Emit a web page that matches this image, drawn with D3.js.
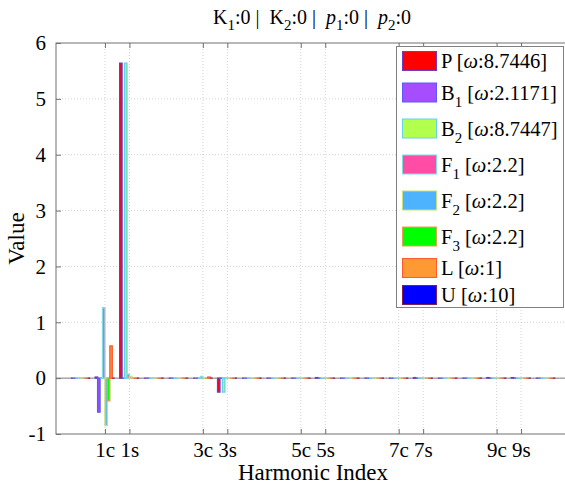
<!DOCTYPE html>
<html>
<head>
<meta charset="utf-8">
<script src="https://cdn.jsdelivr.net/npm/d3@7"></script>
<style>
  body { margin: 0; background: #fff; }
  text { font-family: "Liberation Serif", "Times New Roman", serif; }
</style>
</head>
<body>
<div id="chart"></div>
<script>
// Harmonic categories (DC, then cos/sin of each harmonic)
const categories = ["0", "1c", "1s", "2c", "2s", "3c", "3s", "4c", "4s", "5c", "5s",
                    "6c", "6s", "7c", "7s", "8c", "8s", "9c", "9s", "10c"];
const tickCats = ["1c", "1s", "3c", "3s", "5c", "5s", "7c", "7s", "9c", "9s"];
const tickLabels = ["1c 1s", "3c 3s", "5c 5s", "7c 7s", "9c 9s"];
const yTicks = [-1, 0, 1, 2, 3, 4, 5, 6];

const seriesNames = ["P", "B1", "B2", "F1", "F2", "F3", "L", "U"];
const seriesOmega = ["8.7446", "2.1171", "8.7447", "2.2", "2.2", "2.2", "1", "10"];

// values per series, one per category
const valP  = [0, 0.02, 5.64, 0, 0, 0, -0.25, 0, 0, 0, 0.01, 0, 0, 0, 0.01, 0, 0, 0.01, 0.01, 0];
const valB1 = [0, -0.61, 0, 0, 0, 0, 0, 0, 0, 0, 0, 0, 0, 0, 0, 0, 0, 0, 0, 0];
const valB2 = [0, 0, 5.64, 0, 0, 0, -0.25, 0, 0, 0, 0, 0, 0, 0, 0, 0, 0, 0, 0, 0];
const valF1 = [0, 1.26, 0.07, 0, 0, 0.03, 0, 0, 0, 0, 0, 0, 0, 0, 0, 0, 0, 0, 0, 0];
const valF2 = [0, -0.85, 0.03, 0, 0, 0, 0, 0, 0, 0, 0, 0, 0, 0, 0, 0, 0, 0, 0, 0];
const valF3 = [0, -0.405, 0, 0, 0, 0, 0, 0, 0, 0, 0, 0, 0, 0, 0, 0, 0, 0, 0, 0];
const valL  = [0, 0.577, 0, 0, 0, 0.02, 0, 0, 0, 0, 0, 0, 0, 0, 0, 0, 0, 0, 0, 0];
const valU  = [0, 0, 0, 0, 0, 0, 0, 0, 0, 0, 0, 0, 0, 0, 0, 0, 0, 0, 0, 0];
const seriesValues = [valP, valB1, valB2, valF1, valF2, valF3, valL, valU];

const fillColors = ["#ff0000", "#a64dff", "#b3ff4d", "#ff4da6", "#4db3ff", "#00ff00", "#ff9933", "#0000ff"];
const edgeColors = ["#6a3cc8", "#5a5aff", "#66d2e6", "#80dce6", "#c6e07a", "#e8a050", "#ff5a30", "#802050"];

const W = 565, H = 484;
const margin = { left: 56, top: 43, right: 570, bottom: 434 };

const svg = d3.select("#chart").append("svg")
    .attr("width", W)
    .attr("height", H);

const x = d3.scalePoint()
    .domain(categories)
    .range([margin.left, margin.right])
    .padding(1);

const y = d3.scaleLinear()
    .domain([-1, 6])
    .range([margin.bottom, margin.top]);

const groupW = x.step() * 0.8;
const xSub = d3.scaleBand()
    .domain(seriesNames)
    .range([-groupW / 2, groupW / 2]);

// grid lines
const grid = svg.append("g");
grid.selectAll(".vg")
    .data(tickCats)
    .join("line")
    .attr("x1", d => x(d)).attr("x2", d => x(d))
    .attr("y1", margin.top).attr("y2", margin.bottom)
    .attr("stroke", "#d4d4d4")
    .attr("stroke-dasharray", "1,2");
grid.selectAll(".hg")
    .data(yTicks.filter(v => v > -1 && v < 6))
    .join("line")
    .attr("x1", margin.left).attr("x2", margin.right)
    .attr("y1", d => y(d)).attr("y2", d => y(d))
    .attr("stroke", "#d4d4d4")
    .attr("stroke-dasharray", "1,2");

// baseline
svg.append("line")
    .attr("x1", margin.left).attr("x2", margin.right)
    .attr("y1", y(0)).attr("y2", y(0))
    .attr("stroke", "#808080");

// bars (paths so that zero-height bars still show their edges)
const barData = [];
seriesNames.forEach((s, si) => {
    categories.forEach((c, ci) => {
        barData.push({ s, si, c, v: seriesValues[si][ci] });
    });
});

svg.append("g")
    .selectAll("path")
    .data(barData)
    .join("path")
    .attr("d", d => {
        const x0 = x(d.c) + xSub(d.s);
        const x1 = x0 + xSub.bandwidth();
        const y0 = y(0), y1 = y(d.v);
        return `M${x0},${y0}V${y1}H${x1}V${y0}Z`;
    })
    .attr("fill", d => fillColors[d.si])
    .attr("stroke", d => edgeColors[d.si])
    .attr("stroke-width", 1.3);

// axes box
svg.append("rect")
    .attr("x", margin.left).attr("y", margin.top)
    .attr("width", margin.right - margin.left)
    .attr("height", margin.bottom - margin.top)
    .attr("fill", "none")
    .attr("stroke", "#707070");

// x ticks (inward, top and bottom)
const xAxisB = d3.axisBottom(x).tickValues(tickCats).tickSize(-5).tickFormat("");
const xAxisT = d3.axisTop(x).tickValues(tickCats).tickSize(-5).tickFormat("");
svg.append("g").attr("transform", `translate(0,${margin.bottom})`).call(xAxisB)
    .call(g => g.select(".domain").remove())
    .call(g => g.selectAll("line").attr("stroke", "#707070"));
svg.append("g").attr("transform", `translate(0,${margin.top})`).call(xAxisT)
    .call(g => g.select(".domain").remove())
    .call(g => g.selectAll("line").attr("stroke", "#707070"));

// x tick labels, centered between cos/sin ticks
svg.append("g")
    .selectAll("text")
    .data(tickLabels)
    .join("text")
    .attr("x", (d, i) => (x(tickCats[2 * i]) + x(tickCats[2 * i + 1])) / 2)
    .attr("y", 457)
    .attr("text-anchor", "middle")
    .attr("font-size", 21)
    .text(d => d);

// y axis
const yAxis = d3.axisLeft(y).tickValues(yTicks).tickSize(-5).tickPadding(10)
    .tickFormat(d => String(d));
svg.append("g").attr("transform", `translate(${margin.left},0)`).call(yAxis)
    .call(g => g.select(".domain").remove())
    .call(g => g.selectAll("line").attr("stroke", "#707070"))
    .call(g => g.selectAll("text")
        .attr("font-size", 21)
        .attr("fill", "#000"));

// axis titles
svg.append("text")
    .attr("x", (margin.left + margin.right) / 2)
    .attr("y", 480)
    .attr("text-anchor", "middle")
    .attr("font-size", 23)
    .text("Harmonic Index");

svg.append("text")
    .attr("transform", `translate(24,${(margin.top + margin.bottom) / 2}) rotate(-90)`)
    .attr("text-anchor", "middle")
    .attr("font-size", 23)
    .text("Value");

// helper for text with subscripts
function richText(sel, parts, subSize, shift) {
    let pending = 0;
    parts.forEach(p => {
        const t = sel.append("tspan").text(p.t);
        if (p.sub) {
            t.attr("dy", shift + pending).attr("font-size", subSize);
            pending = -shift;
        } else {
            if (pending) t.attr("dy", pending);
            pending = 0;
            if (p.it) t.attr("font-style", "italic");
        }
    });
}

// title
const title = svg.append("text")
    .attr("x", 312)
    .attr("y", 24)
    .attr("text-anchor", "middle")
    .attr("font-size", 20)
    .style("white-space", "pre");
richText(title, [
    { t: "K" }, { t: "1", sub: true }, { t: ":0 |  K" }, { t: "2", sub: true },
    { t: ":0 |  " }, { t: "p", it: true }, { t: "1", sub: true }, { t: ":0 |  " },
    { t: "p", it: true }, { t: "2", sub: true }, { t: ":0" }
], 15, 6);

// legend
const legend = svg.append("g");
legend.append("rect")
    .attr("x", 396.5).attr("y", 46.5)
    .attr("width", 167).attr("height", 261)
    .attr("fill", "#fff")
    .attr("stroke", "#808080");

const rowH = seriesNames.map(s => s.length > 1 ? 36 : 27);
let cy = 61 - rowH[0] / 2;
seriesNames.forEach((s, i) => {
    const center = cy + rowH[i] / 2;
    cy += rowH[i];
    legend.append("rect")
        .attr("x", 402.5).attr("y", center - 9.5)
        .attr("width", 34).attr("height", 19)
        .attr("fill", fillColors[i])
        .attr("stroke", edgeColors[i]);
    const t = legend.append("text")
        .attr("x", 441)
        .attr("y", center + 7)
        .attr("font-size", 20.5)
        .style("white-space", "pre");
    const parts = [{ t: s[0] }];
    if (s.length > 1) parts.push({ t: s.slice(1), sub: true });
    parts.push({ t: " [" }, { t: "ω", it: true }, { t: ":" + seriesOmega[i] + "]" });
    richText(t, parts, 15, 7);
});
</script>
</body>
</html>
